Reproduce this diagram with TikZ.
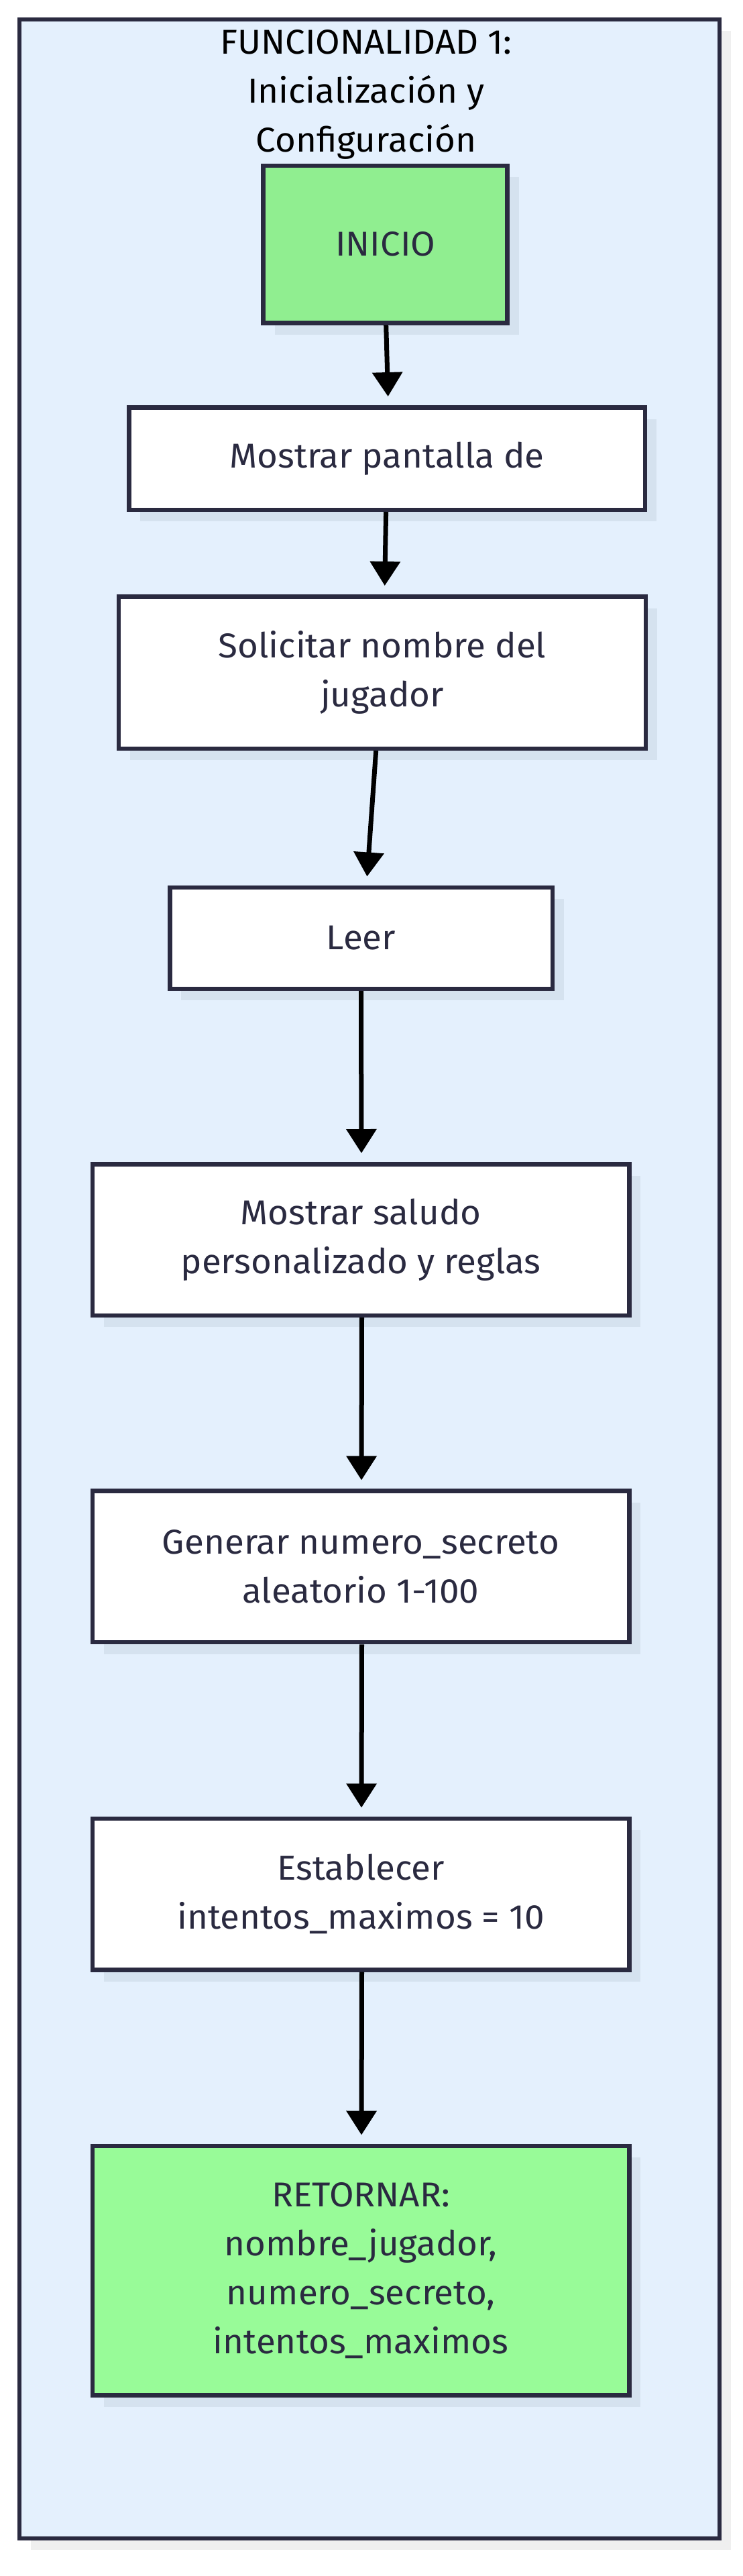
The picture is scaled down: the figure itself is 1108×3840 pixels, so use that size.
\documentclass[tikz,border=0pt]{standalone}
\usepackage{fontspec}
\setmainfont[FakeStretch=1.03]{Fira Sans}
\usetikzlibrary{arrows.meta,shadows}
\definecolor{frameFill}{HTML}{E4F0FD}
\definecolor{frameShadow}{HTML}{EFEFEF}
\definecolor{edgeCol}{HTML}{2A2A40}
\definecolor{nodeShadow}{HTML}{D5E2EF}
\definecolor{startFill}{HTML}{90EE90}
\definecolor{endFill}{HTML}{98FB98}
\definecolor{txtCol}{HTML}{2A2A40}
\begin{document}
\begin{tikzpicture}[x=0.5pt,y=-0.5pt,
  grpbox/.style={draw=edgeCol, line width=3.25pt, fill=frameFill, inner sep=0pt,
    drop shadow={shadow xshift=8.6pt, shadow yshift=-8.75pt, fill=frameShadow, opacity=1}},
  box/.style={draw=edgeCol, line width=3.25pt, fill=white, inner sep=0pt, text=txtCol,
    align=center, font=\fontsize{25.7}{36.5}\selectfont,
    drop shadow={shadow xshift=8.6pt, shadow yshift=-8.75pt, fill=nodeShadow, opacity=1}},
  flow/.style={draw=black, line width=3.5pt, -{Triangle[width=22pt,length=18pt]}, shorten >=6.5pt},
  ttl/.style={anchor=base, font=\fontsize{25.7}{36.5}\selectfont, text=black, inner sep=0pt}]
\useasboundingbox (0,0) rectangle (1108,3840);
\node[grpbox, minimum width=522pt, minimum height=1877.45pt] (grp) at (550.75,1906.3) {};
\node[ttl] (t1) at (546,80.5) {FUNCIONALIDAD 1:};
\node[ttl] (t2) at (546,153) {Inicialización y};
\node[ttl] (t3) at (546,226) {Configuración};
\node[box, fill=startFill, minimum width=182pt, minimum height=117.25pt] (b1) at (574.7,364.1) {INICIO};
\node[box, minimum width=384.75pt, minimum height=76.25pt] (b2) at (577,683.5) {Mostrar pantalla de};
\node[box, minimum width=393.2pt, minimum height=113.25pt] (b3) at (570,1002.5) {Solicitar nombre del\\jugador};
\node[box, minimum width=285.25pt, minimum height=75.5pt] (b4) at (538.5,1398.25) {Leer};
\node[box, minimum width=400.25pt, minimum height=112.75pt] (b5) at (538,1848) {Mostrar saludo\\personalizado y reglas};
\node[box, minimum width=400.25pt, minimum height=112.75pt] (b6) at (538,2335.4) {Generar numero\_secreto\\aleatorio 1-100};
\node[box, minimum width=400.25pt, minimum height=112.75pt] (b7) at (538,2823.6) {Establecer\\intentos\_maximos = 10};
\node[box, fill=endFill, minimum width=400.25pt, minimum height=185.75pt] (b8) at (538,3384.5) {RETORNAR:\\nombre\_jugador,\\numero\_secreto,\\intentos\_maximos};
\draw[flow] ([xshift=0.5pt]b1.south) -- ([xshift=1pt]b2.north);
\draw[flow] ([xshift=-0.7pt]b2.south) -- ([xshift=1.75pt]b3.north);
\draw[flow] ([xshift=-4.65pt]b3.south) -- ([xshift=4pt]b4.north);
\draw[flow] (b4.south) -- ([xshift=0.5pt]b5.north);
\draw[flow] ([xshift=0.75pt]b5.south) -- ([xshift=0.5pt]b6.north);
\draw[flow] ([xshift=0.75pt]b6.south) -- ([xshift=0.5pt]b7.north);
\draw[flow] ([xshift=0.75pt]b7.south) -- ([xshift=0.5pt]b8.north);
\end{tikzpicture}
\end{document}
